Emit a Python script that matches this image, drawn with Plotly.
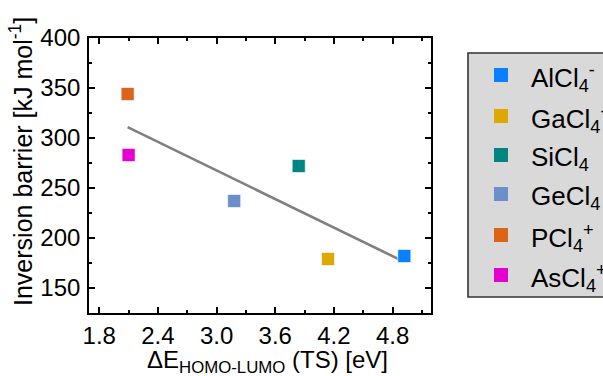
import numpy as np
import plotly.graph_objects as go

names = ["AlCl<sub>4</sub><sup>-</sup>", "GaCl<sub>4</sub><sup>-</sup>", "SiCl<sub>4</sub>",
         "GeCl<sub>4</sub>", "PCl<sub>4</sub><sup>+</sup>", "AsCl<sub>4</sub><sup>+</sup>"]
gap_ev = [4.92, 4.14, 3.84, 3.18, 2.09, 2.10]
barrier = [182, 179, 272, 237, 344, 283]
colors = ["#0a80ff", "#dfa800", "#008580", "#6a8fcb", "#da6418", "#e400d0"]
x_ticks = [1.8, 2.4, 3.0, 3.6, 4.2, 4.8]
y_ticks = [150, 200, 250, 300, 350, 400]

FONT = "Liberation Sans, Arial, sans-serif"
W, H = 603, 376
L, R, T, B = 89, 172, 38, 63
PW, PH = W - L - R, H - T - B

def px2paper(px, py):
    return (px - L) / PW, (H - B - py) / PH

fig = go.Figure()

# linear fit
k, b = np.polyfit(gap_ev, barrier, 1)
xf = np.array([min(gap_ev), max(gap_ev)])
fig.add_trace(go.Scatter(x=xf, y=k * xf + b, mode="lines",
                         line=dict(color="#808080", width=2.6), showlegend=False, hoverinfo="skip"))

for n, xv, yv, c in zip(names, gap_ev, barrier, colors):
    fig.add_trace(go.Scatter(x=[xv], y=[yv], mode="markers", name=n, showlegend=False,
                             marker=dict(symbol="square", size=13, color=c,
                                         line=dict(color="rgba(255,255,255,0.6)", width=1))))

axis_common = dict(showline=True, linecolor="black", linewidth=1.6, mirror="ticks",
                   ticks="inside", tickcolor="black", ticklen=6, tickwidth=1.5,
                   showgrid=False, zeroline=False,
                   tickfont=dict(family=FONT, size=24, color="black"))

fig.update_xaxes(range=[1.695, 5.193], tickvals=x_ticks,
                 ticktext=[f"{v:.1f}" for v in x_ticks], ticklabelstandoff=0,
                 minor=dict(ticks="inside", ticklen=3, tickcolor="black", tickwidth=1.5, dtick=0.3, tick0=1.8),
                 **axis_common)
fig.update_yaxes(range=[125, 400], tickvals=y_ticks, ticklabelstandoff=2,
                 minor=dict(ticks="inside", ticklen=3, tickcolor="black", tickwidth=1.5, dtick=25, tick0=125),
                 **axis_common)

annotations = []
# axis titles
ax, ay = px2paper(21, 162)
annotations.append(dict(x=ax, y=ay, xref="paper", yref="paper", text="Inversion barrier [kJ mol<sup>-1</sup>]",
                        textangle=-90, showarrow=False, font=dict(family=FONT, size=25, color="black"),
                        xanchor="center", yanchor="middle"))
ax, ay = px2paper(267, 361)
annotations.append(dict(x=ax, y=ay, xref="paper", yref="paper", text="ΔE<sub>HOMO-LUMO</sub> (TS) [eV]",
                        showarrow=False, font=dict(family=FONT, size=24, color="black"),
                        xanchor="center", yanchor="middle"))

shapes = []
# legend box
x0, y0 = px2paper(468, 297)
x1, y1 = px2paper(640, 53)
shapes.append(dict(type="rect", xref="paper", yref="paper", x0=x0, y0=y0, x1=x1, y1=y1,
                   fillcolor="#d9d9d9", line=dict(color="#333333", width=1.6), layer="below"))
row_y = [75, 116, 155, 194, 235, 275]
for n, c, ry in zip(names, colors, row_y):
    mx, my = px2paper(501, ry)
    shapes.append(dict(type="rect", xref="paper", yref="paper", xsizemode="pixel", ysizemode="pixel",
                       xanchor=mx, yanchor=my, x0=-7, x1=7, y0=-7, y1=7,
                       fillcolor=c, line=dict(width=0)))
    tx, ty = px2paper(529, ry + 3)
    annotations.append(dict(x=tx, y=ty, xref="paper", yref="paper", text=n, showarrow=False,
                            font=dict(family=FONT, size=26, color="black"),
                            xanchor="left", yanchor="middle"))

fig.update_layout(width=W, height=H, margin=dict(l=L, r=R, t=T, b=B, autoexpand=False),
                  plot_bgcolor="white", paper_bgcolor="white",
                  annotations=annotations, shapes=shapes, showlegend=False)

fig.write_html("out.html")
